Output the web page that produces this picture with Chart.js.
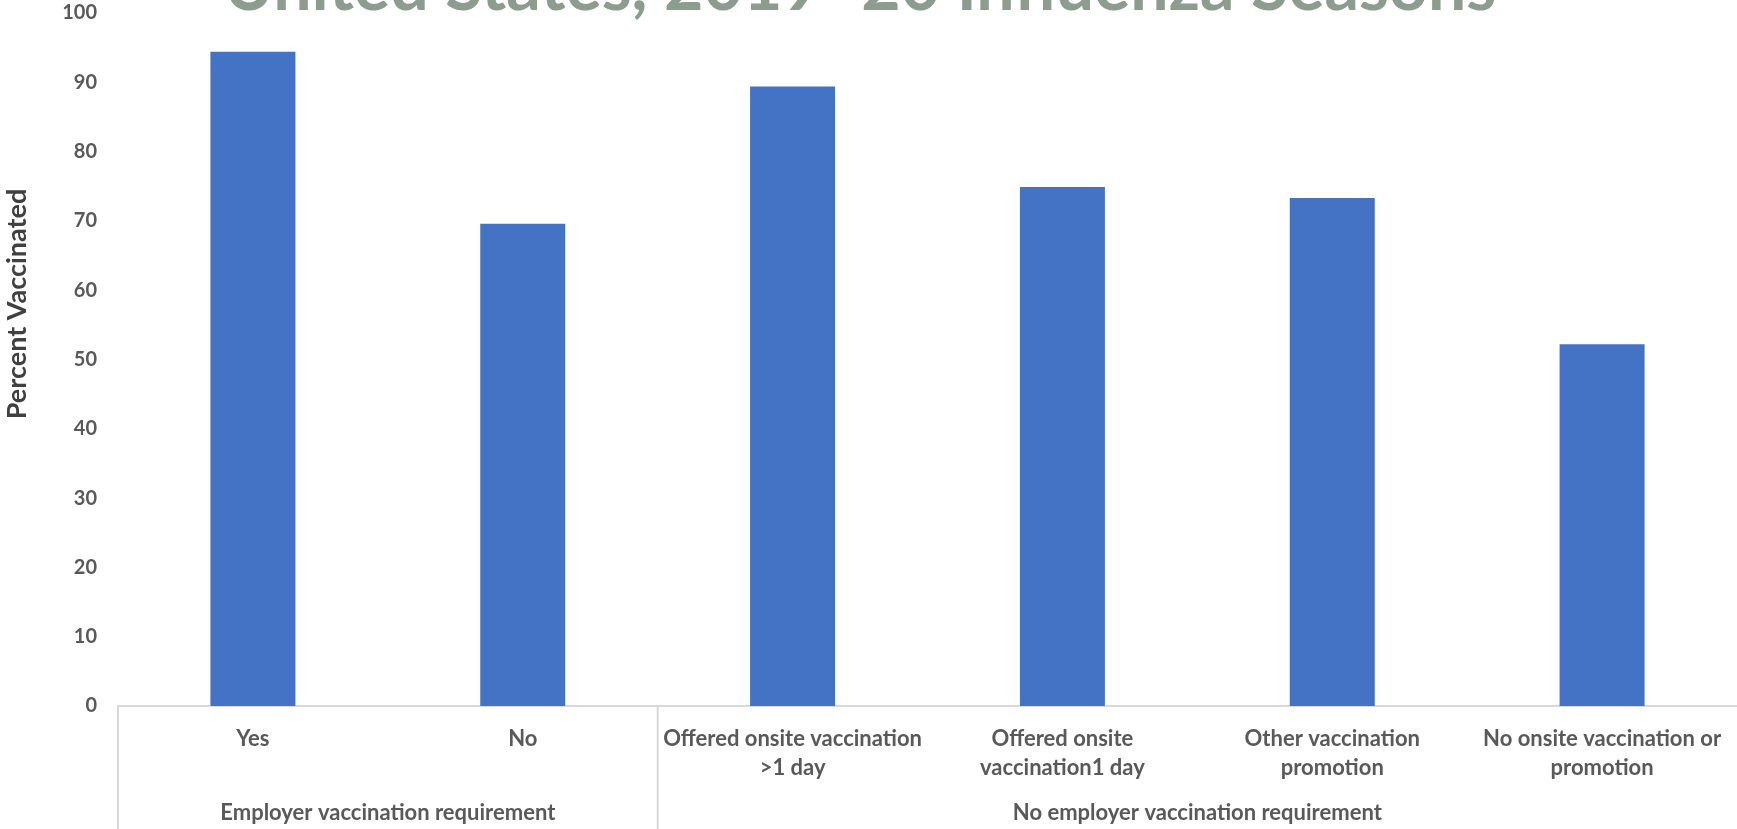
<!DOCTYPE html>
<html>
<head>
<meta charset="utf-8">
<script src="https://cdn.jsdelivr.net/npm/chart.js@4.4.1/dist/chart.umd.min.js"></script>
<style>
  html, body { margin: 0; padding: 0; background: #fff; }
  #wrap { position: relative; width: 1737px; height: 829px; }
</style>
</head>
<body>
<div id="wrap"><canvas id="chart" width="1737" height="829"></canvas></div>
<script>
// data
const categories = [
  'Yes',
  'No',
  ['Offered onsite vaccination', '>1 day'],
  ['Offered onsite', 'vaccination1 day'],
  ['Other vaccination', 'promotion'],
  ['No onsite vaccination or', 'promotion']
];
const percentVaccinated = [94.4, 69.6, 89.4, 74.9, 73.3, 52.2];
const groupNames = ['Employer vaccination requirement', 'No employer vaccination requirement'];
const groupSizes = [2, 4];
const yTicks = [0, 10, 20, 30, 40, 50, 60, 70, 80, 90, 100];

const FONT = 'Lato, "Open Sans", sans-serif';
const GREY = '#595959';

// group labels + separators under the category labels, and the cut-off title
const extras = {
  id: 'extras',
  afterDraw(chart) {
    const ctx = chart.ctx;
    const x = chart.scales.x;
    const area = chart.chartArea;
    const half = (x.getPixelForValue(1) - x.getPixelForValue(0)) / 2;
    ctx.save();
    ctx.strokeStyle = '#D9D9D9';
    ctx.lineWidth = 2;
    let start = 0;
    groupSizes.forEach((n, i) => {
      const left = x.getPixelForValue(start) - half;
      const right = x.getPixelForValue(start + n - 1) + half;
      ctx.beginPath();
      ctx.moveTo(left, area.bottom);
      ctx.lineTo(left, chart.height);
      ctx.stroke();
      ctx.fillStyle = GREY;
      ctx.font = 'bold 22px ' + FONT;
      ctx.textAlign = 'center';
      ctx.textBaseline = 'middle';
      ctx.fillText(groupNames[i], (left + right) / 2, 813);
      start += n;
    });

    // axis title
    ctx.translate(17, 304);
    ctx.rotate(-Math.PI / 2);
    ctx.fillStyle = '#404040';
    ctx.font = 'bold 27px ' + FONT;
    ctx.fillText('Percent Vaccinated', 0, 0);
    ctx.restore();

    // title, only its bottom shows at the top edge
    ctx.save();
    ctx.fillStyle = '#8C9C8F';
    ctx.font = 'bold 68px ' + FONT;
    ctx.textAlign = 'center';
    ctx.textBaseline = 'alphabetic';
    ctx.fillText('United States, 2019\u201320 Influenza Seasons', 860, 10);
    ctx.restore();
  }
};

new Chart(document.getElementById('chart').getContext('2d'), {
  type: 'bar',
  data: {
    labels: categories,
    datasets: [{
      label: 'Percent Vaccinated',
      data: percentVaccinated,
      backgroundColor: '#4472C4',
      barPercentage: 0.315,
      categoryPercentage: 1
    }]
  },
  options: {
    responsive: false,
    animation: false,
    layout: { padding: { top: 13, right: 0, left: 0, bottom: 0 } },
    plugins: { legend: { display: false }, tooltip: { enabled: false } },
    scales: {
      x: {
        grid: { display: false },
        border: { display: true, color: '#D9D9D9', width: 2 },
        ticks: {
          color: GREY,
          font: { family: FONT, size: 22, weight: 'bold', lineHeight: 1.32 },
          padding: 10,
          maxRotation: 0,
          autoSkip: false
        },
        afterFit(scale) { scale.height = 123; }
      },
      y: {
        min: 0,
        max: 100,
        afterBuildTicks(scale) { scale.ticks = yTicks.map(v => ({ value: v })); },
        // tickLength stands in for the label gap so it does not pad the top
        grid: { display: false, drawTicks: true, tickLength: 21 },
        border: { display: false },
        ticks: {
          color: GREY,
          font: { family: FONT, size: 20, weight: 'bold', lineHeight: 1.0 },
          padding: 0
        },
        afterFit(scale) { scale.width = 118; }
      }
    }
  },
  plugins: [extras]
});
</script>
</body>
</html>
